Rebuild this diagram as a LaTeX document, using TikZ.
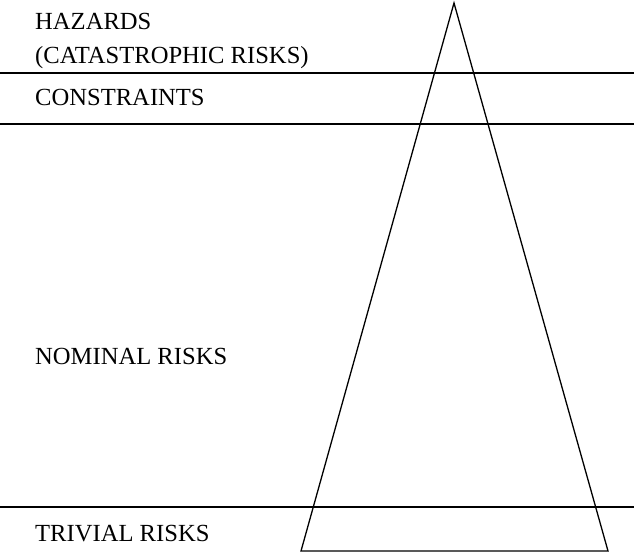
\documentclass[tikz,border=0pt]{standalone}
\usepackage{fontspec}
\setmainfont{Liberation Serif}
\begin{document}
\begin{tikzpicture}[x=1pt,y=-1pt,
  rule/.style={line width=1.3pt},
  label/.style={anchor=base west,inner sep=0pt,font=\fontsize{24.6}{33.5}\selectfont,align=left}]
\useasboundingbox (0,0) rectangle (634,557);
% triangle corners
\coordinate (apex) at (454,3);
\coordinate (bl) at (301,551);
\coordinate (br) at (608,551);
% band boundaries
\coordinate (l1a) at (0,73);  \coordinate (l1b) at (634,73);
\coordinate (l2a) at (0,124); \coordinate (l2b) at (634,124);
\coordinate (l3a) at (0,507); \coordinate (l3b) at (634,507);
\draw[rule,line join=miter] (apex) -- (br) -- (bl) -- cycle;
\draw[rule] (l1a) -- (l1b);
\draw[rule] (l2a) -- (l2b);
\draw[rule] (l3a) -- (l3b);
% band labels (base anchor of a two-line node sits on its last line)
\node[label] (haz) at (35,63) {HAZARDS\\(CATASTROPHIC RISKS)};
\node[label] (con) at (35,105) {CONSTRAINTS};
\node[label] (nom) at (35,364) {NOMINAL RISKS};
\node[label] (tri) at (35,541.5) {TRIVIAL RISKS};
\end{tikzpicture}
\end{document}
